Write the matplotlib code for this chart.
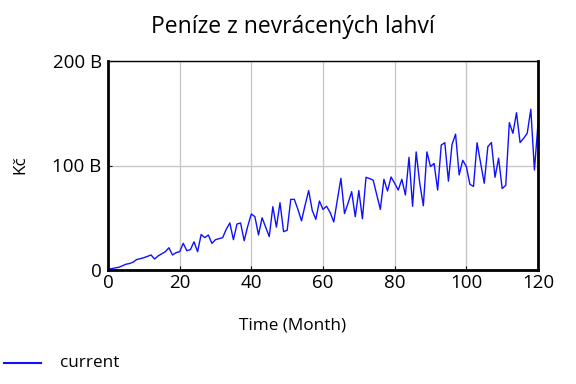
import matplotlib
matplotlib.use("Agg")
import matplotlib.pyplot as plt
from matplotlib.ticker import FuncFormatter
from matplotlib.lines import Line2D

plt.rcParams['font.family'] = ['Open Sans', 'DejaVu Sans']

months = list(range(121))
current = [
    0.7, 1.3, 2.0, 2.6, 4.0, 5.5, 6.2, 7.5, 10.0, 10.8,
    11.8, 13.0, 14.4, 10.5, 13.5, 15.5, 17.5, 21.3, 14.4, 16.6,
    17.5, 25.5, 18.5, 19.5, 27.0, 17.5, 34.0, 31.0, 33.5, 25.5,
    29.0, 30.0, 31.0, 39.0, 45.0, 29.0, 44.0, 45.0, 28.0, 42.0,
    53.6, 51.0, 33.5, 50.0, 41.0, 32.0, 60.6, 41.0, 64.4, 36.7,
    38.0, 67.6, 67.6, 58.0, 47.0, 62.0, 76.0, 57.0, 48.5, 66.0,
    58.0, 61.0, 55.0, 46.0, 67.0, 87.7, 54.0, 64.0, 75.0, 51.0,
    76.0, 49.0, 88.7, 87.5, 86.0, 72.0, 58.0, 86.8, 75.6, 89.0,
    83.0, 76.5, 86.8, 71.8, 107.8, 61.0, 113.0, 83.0, 61.5, 113.0,
    99.0, 102.0, 76.5, 119.6, 121.8, 85.0, 120.0, 130.0, 91.0, 105.0,
    99.0, 82.0, 80.0, 121.8, 102.0, 83.0, 118.0, 122.0, 88.7, 107.0,
    78.0, 81.0, 141.0, 130.8, 150.5, 122.0, 126.0, 131.0, 153.8, 95.7,
    140.0,
]
x_ticks = [0, 20, 40, 60, 80, 100, 120]
y_ticks = [0, 100, 200]

fig = plt.figure(figsize=(5.76, 3.84), dpi=100)
ax = fig.add_axes([108/576, 1-270/384, (538-108)/576, (270-61)/384])

ax.plot(months, current, color='#1010ff', lw=1.0)
ax.set_xlim(0, 120)
ax.set_ylim(0, 200)
ax.set_xticks(x_ticks)
ax.set_yticks(y_ticks)
ax.yaxis.set_major_formatter(FuncFormatter(lambda v, p: '0' if v == 0 else f'{int(v)} B'))
ax.grid(True, color='#c8c8c8', lw=1)
ax.set_axisbelow(True)
ax.tick_params(direction='in', length=3, labelsize=13.5, colors='black')
ax.tick_params(axis='x', pad=3)
ax.tick_params(axis='y', pad=4.5)

for s in ['left', 'bottom', 'right']:
    ax.spines[s].set_linewidth(2)
ax.spines['top'].set_linewidth(1)

fig.text(293/576, 1-27/384, 'Peníze z nevrácených lahví', ha='center', va='center', fontsize=16.5)
fig.text(293/576, 1-326/384, 'Time (Month)', ha='center', va='center', fontsize=12.3)
fig.text(20/576, 1-165/384, 'Kč', ha='center', va='center', rotation=90, fontsize=12.3)

fig.add_artist(Line2D([4/576, 41/576], [1-363/384, 1-363/384], color='#1010ff', lw=1.5))
fig.text(60/576, 1-363/384, 'current', ha='left', va='center', fontsize=12.3)

fig.savefig('out.png', dpi=100)
